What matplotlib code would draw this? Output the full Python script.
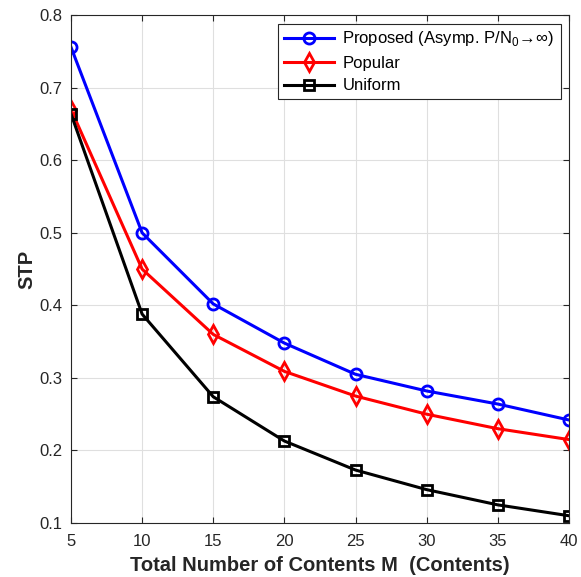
import matplotlib
matplotlib.use("Agg")
from matplotlib import pyplot as plt

plt.rcParams['font.family'] = ['Liberation Sans', 'DejaVu Sans']
plt.rcParams['mathtext.fontset'] = 'custom'
plt.rcParams['mathtext.rm'] = 'Liberation Sans'

# Data
m_values = [5, 10, 15, 20, 25, 30, 35, 40]
stp_proposed = [0.756, 0.500, 0.402, 0.348, 0.305, 0.282, 0.264, 0.242]
stp_popular = [0.670, 0.450, 0.360, 0.309, 0.275, 0.250, 0.230, 0.215]
stp_uniform = [0.664, 0.388, 0.274, 0.213, 0.173, 0.146, 0.125, 0.110]

fig = plt.figure(figsize=(5.81, 5.77), dpi=100)
ax = fig.add_axes([0.1222, 0.0936, 0.857, 0.880])

ax.plot(m_values, stp_proposed, color='#0000ff', lw=2.2, marker='o', ms=8,
        mfc='none', mew=2,
        label=r'Proposed (Asymp. P/N$_0$$\!\rightarrow\!\infty$)')
ax.plot(m_values, stp_popular, color='#ff0000', lw=2.2, marker='d', ms=9,
        mfc='none', mew=2, label='Popular')
ax.plot(m_values, stp_uniform, color='black', lw=2.2, marker='s', ms=7,
        mfc='none', mew=2, label='Uniform')

ax.set_xlim(5, 40)
ax.set_ylim(0.1, 0.8)
ax.set_xticks(range(5, 41, 5))
ax.set_yticks([0.1, 0.2, 0.3, 0.4, 0.5, 0.6, 0.7, 0.8])
ax.set_yticklabels(['0.1', '0.2', '0.3', '0.4', '0.5', '0.6', '0.7', '0.8'])
ax.grid(True, color='#dfdfdf', lw=0.8)
ax.set_axisbelow(True)
ax.tick_params(direction='in', labelsize=12, colors='#262626', length=4,
               top=True, right=True, pad=6)
ax.tick_params(axis='x', pad=8)
for s in ax.spines.values():
    s.set_color('#262626')
    s.set_linewidth(0.8)

ax.set_xlabel('Total Number of Contents M  (Contents)', fontsize=14.5,
              fontweight='bold', color='#262626', labelpad=5)
ax.set_ylabel('STP', fontsize=14.5, fontweight='bold', color='#262626', labelpad=2)

leg = ax.legend(loc='upper right', fontsize=12, fancybox=False, framealpha=1,
                edgecolor='#262626', borderaxespad=0.5, handlelength=3,
                labelspacing=0.45, borderpad=0.35, handletextpad=0.5)
leg.get_frame().set_linewidth(0.8)

plt.savefig('out.png', dpi=100)
